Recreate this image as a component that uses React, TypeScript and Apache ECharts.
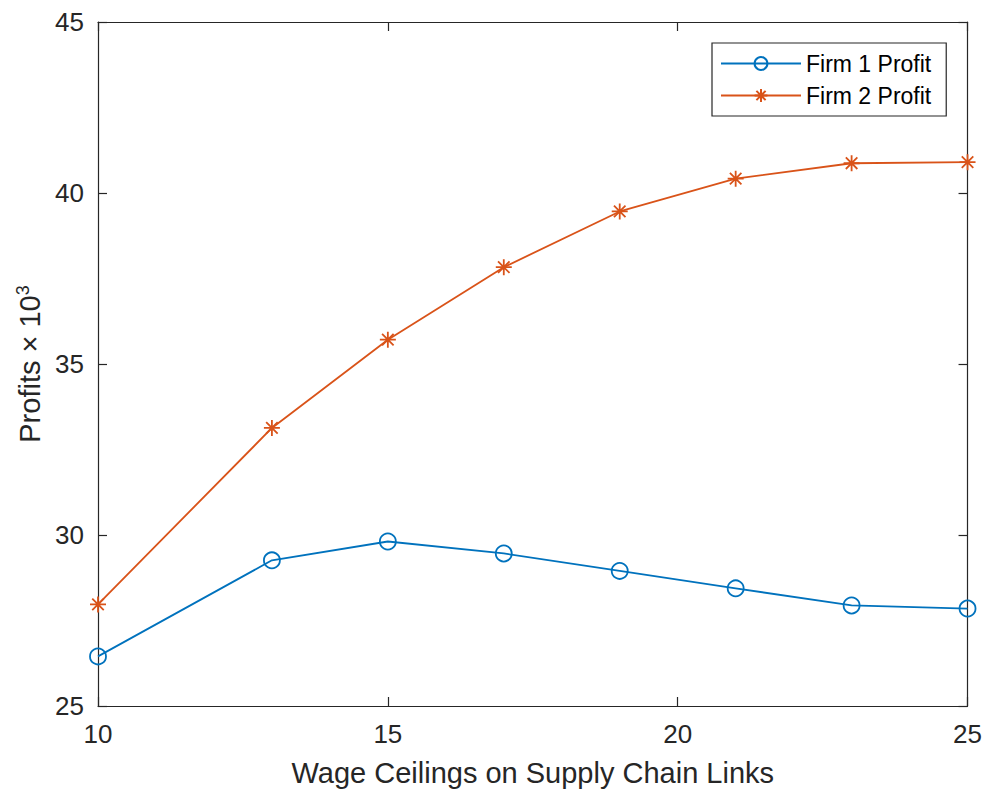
import React, { useEffect, useRef } from "react";
import * as echarts from "echarts";

const wageCeilings = [10, 13, 15, 17, 19, 21, 23, 25];
const firm1Profit = [26.45, 29.26, 29.81, 29.46, 28.95, 28.44, 27.94, 27.85];
const firm2Profit = [27.97, 33.13, 35.71, 37.83, 39.46, 40.42, 40.87, 40.9];
const seriesNames = ["Firm 1 Profit", "Firm 2 Profit"];
const xTitle = "Wage Ceilings on Supply Chain Links";

const BLUE = "#0072BD";
const ORANGE = "#D95319";
const AXIS = "#262626";
const FONT = "'Liberation Sans', Arial, Helvetica, sans-serif";
const STAR = "path://M0,-1L0,1M-1,0L1,0M-0.72,-0.72L0.72,0.72M-0.72,0.72L0.72,-0.72";

export default function App() {
  const ref = useRef<HTMLDivElement>(null);
  useEffect(() => {
    if (!ref.current) return;
    const chart = echarts.init(ref.current, undefined, { renderer: "svg" });
    const pair = (ys: number[]) => wageCeilings.map((x, i) => [x, ys[i]]);
    const axisCommon = {
      type: "value" as const,
      axisLine: { show: true, lineStyle: { color: AXIS, width: 1.2 } },
      axisTick: { show: true, inside: true, length: 9, lineStyle: { color: AXIS, width: 1.2 } },
      splitLine: { show: false },
    };
    chart.setOption({
      animation: false,
      backgroundColor: "#ffffff",
      textStyle: { fontFamily: FONT },
      grid: { left: 98, right: 17, top: 22, bottom: 82, containLabel: false },
      legend: {
        data: seriesNames,
        orient: "vertical",
        left: 712,
        top: 43,
        padding: [9, 15, 9, 8],
        itemWidth: 80,
        itemHeight: 16,
        itemGap: 9,
        borderColor: AXIS,
        borderWidth: 1.2,
        backgroundColor: "#ffffff",
        textStyle: { fontSize: 23, color: "#000000", fontFamily: FONT },
      },
      xAxis: [
        {
          ...axisCommon,
          position: "bottom",
          min: 10,
          max: 25,
          interval: 5,
          axisLabel: { fontSize: 26, color: AXIS, margin: 15, fontFamily: FONT },
          name: xTitle,
          nameLocation: "middle",
          nameGap: 52,
          nameTextStyle: { fontSize: 29, color: AXIS, fontFamily: FONT },
        },
        {
          ...axisCommon,
          position: "top",
          min: 10,
          max: 25,
          interval: 5,
          axisLabel: { show: false },
        },
      ],
      yAxis: [
        {
          ...axisCommon,
          position: "left",
          min: 25,
          max: 45,
          interval: 5,
          axisLabel: { fontSize: 26, color: AXIS, margin: 14, fontFamily: FONT },
          name: "Profits \u00d7 10{sup|3}",
          nameLocation: "middle",
          nameGap: 47,
          nameTextStyle: {
            fontSize: 29,
            color: AXIS,
            fontFamily: FONT,
            rich: { sup: { fontSize: 18, color: AXIS, fontFamily: FONT, padding: [0, 0, 14, 0] } },
          },
        },
        {
          ...axisCommon,
          position: "right",
          min: 25,
          max: 45,
          interval: 5,
          axisLabel: { show: false },
        },
      ],
      series: [
        {
          name: seriesNames[0],
          type: "line",
          data: pair(firm1Profit),
          symbol: "circle",
          symbolSize: 16,
          lineStyle: { color: BLUE, width: 1.8 },
          itemStyle: { color: "rgba(0,0,0,0)", borderColor: BLUE, borderWidth: 1.8 },
          z: 3,
        },
        {
          name: seriesNames[1],
          type: "line",
          data: pair(firm2Profit),
          symbol: STAR,
          symbolSize: 16,
          lineStyle: { color: ORANGE, width: 1.8 },
          itemStyle: { color: ORANGE, borderColor: ORANGE, borderWidth: 1.8 },
          z: 3,
        },
      ],
    });
    return () => chart.dispose();
  }, []);
  return (
    <div
      ref={ref}
      style={{ position: "fixed", left: 0, top: 0, width: 985, height: 792, background: "#fff" }}
    />
  );
}
